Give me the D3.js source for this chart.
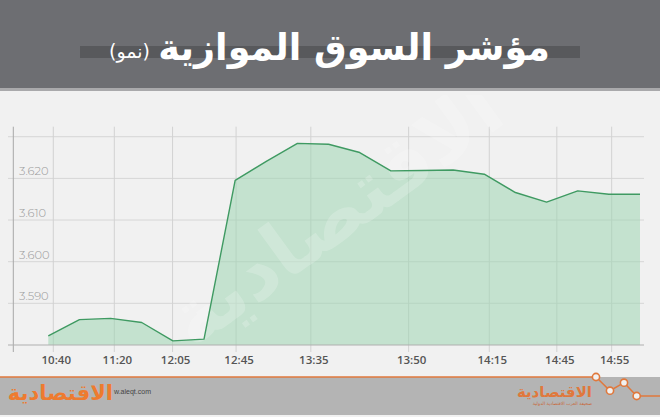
<!DOCTYPE html>
<html><head><meta charset="utf-8">
<script src="https://cdn.jsdelivr.net/npm/d3@7"></script>
<style>
html,body{margin:0;padding:0;background:#f1f1f1;}
svg{display:block;}
</style></head>
<body>
<svg id="c" width="660" height="417"></svg>
<script>
// ---- data ----
const titleMain = "مؤشر السوق الموازية";
const titleSub = "(نمو)";
const values = [3.5822, 3.5861, 3.5864, 3.5854, 3.5810, 3.5814, 3.6195, 3.6241, 3.6284, 3.6282,
                3.6262, 3.6218, 3.6219, 3.6220, 3.6210, 3.6166, 3.6143, 3.6170, 3.6162, 3.6162];
const xTickLabels = ["10:40", "11:20", "12:05", "12:45", "13:35", "13:50", "14:15", "14:45", "14:55"];
const xTickIndex = [0.16, 2.12, 3.99, 6.03, 8.43, 11.57, 14.16, 16.33, 18.09];
const yTicks = [3.59, 3.60, 3.61, 3.62, 3.63];
const yTickLabels = ["3.590", "3.600", "3.610", "3.620", ""];
const yMin = 3.58, yMax = 3.63;

const svg = d3.select("#c");
const W = 660, H = 417;

// backgrounds
svg.append("rect").attr("x",0).attr("y",0).attr("width",W).attr("height",H).attr("fill","#f1f1f1");
svg.append("rect").attr("x",0).attr("y",0).attr("width",W).attr("height",88).attr("fill","#6d6e72");
svg.append("rect").attr("x",0).attr("y",88).attr("width",W).attr("height",3).attr("fill","#a9a9ab");
// title bar
svg.append("rect").attr("x",80).attr("y",46).attr("width",500).attr("height",12).attr("fill","#58595c");

const tMain = svg.append("text").attr("x",550).attr("y",60)
  .attr("text-anchor","start").attr("direction","rtl")
  .attr("font-family","DejaVu Sans, sans-serif").attr("font-weight","bold")
  .attr("font-size",34).attr("fill","#ffffff").text(titleMain);
let w = tMain.node().getComputedTextLength();
tMain.attr("font-size", 34*392/w);
svg.append("text").attr("x",150).attr("y",58)
  .attr("text-anchor","start").attr("direction","rtl")
  .attr("font-family","DejaVu Sans, sans-serif").attr("font-weight","normal")
  .attr("font-size",19).attr("fill","#ffffff").text(titleSub);

// scales
const x = d3.scaleLinear().domain([0, values.length-1]).range([48.3, 640]);
const y = d3.scaleLinear().domain([yMin, yMax]).range([345, 136.7]);

const g = svg.append("g");
svg.append("clipPath").attr("id","plotclip").append("rect")
  .attr("x",0).attr("y",95).attr("width",W).attr("height",250);

// horizontal grid
g.selectAll(".hg").data(yTicks).join("line")
  .attr("x1",8).attr("x2",644).attr("y1",d=>y(d)).attr("y2",d=>y(d))
  .attr("stroke","#d6d6d6").attr("stroke-width",1);
// vertical grid
g.selectAll(".vg").data(xTickIndex).join("line")
  .attr("x1",d=>x(d)).attr("x2",d=>x(d)).attr("y1",126.7).attr("y2",352)
  .attr("stroke","#d2d2d2").attr("stroke-width",1);

// area + line
const area = d3.area().x((d,i)=>x(i)).y0(y(yMin)).y1(d=>y(d));
const line = d3.line().x((d,i)=>x(i)).y(d=>y(d));
g.append("path").datum(values).attr("d",area).attr("fill","#9fd6b3").attr("opacity",0.55);

// watermark
g.append("g").attr("clip-path","url(#plotclip)").append("text")
  .attr("transform","translate(338,218) rotate(-36)")
  .attr("text-anchor","middle").attr("dominant-baseline","middle")
  .attr("font-family","DejaVu Sans, sans-serif").attr("font-weight","bold")
  .attr("font-size",78).attr("fill","#ffffff").attr("opacity",0.2)
  .attr("direction","rtl").text("الاقتصادية");

g.append("path").datum(values).attr("d",line).attr("fill","none")
  .attr("stroke","#3f9a62").attr("stroke-width",1.4).attr("stroke-linejoin","round");

// axes lines
g.append("line").attr("x1",13.3).attr("x2",13.3).attr("y1",126.7).attr("y2",352)
  .attr("stroke","#a8a8a8").attr("stroke-width",1);
g.append("line").attr("x1",8).attr("x2",644).attr("y1",y(yMin)).attr("y2",y(yMin))
  .attr("stroke","#b0b0b0").attr("stroke-width",1.2);

// y labels
g.selectAll(".yl").data(yTicks).join("text")
  .attr("x",19).attr("y",d=>y(d)-3)
  .attr("font-family","Montserrat, Lato, 'Open Sans', sans-serif").attr("font-weight",300)
  .attr("font-size",11.5).attr("fill","#9a9a9a")
  .text((d,i)=>yTickLabels[i]);

// x labels
g.selectAll(".xl").data(xTickIndex).join("text")
  .attr("x",d=>x(d)+3).attr("y",364)
  .attr("text-anchor","middle")
  .attr("font-family","'Open Sans', Lato, sans-serif").attr("font-weight",600)
  .attr("font-size",11.5).attr("fill","#555555")
  .text((d,i)=>xTickLabels[i]);

// footer
svg.append("rect").attr("x",0).attr("y",377).attr("width",W).attr("height",38).attr("fill","#b4b4b4");
const orange = "#e0783c";
const zig = [[0,377],[596,377],[610,390.7],[624,382.7],[636.7,396],[660,396]];
svg.append("path").attr("d",d3.line()(zig)).attr("fill","none").attr("stroke",orange).attr("stroke-width",1.5);
svg.selectAll(".zc").data(zig.slice(1,5)).join("circle")
  .attr("cx",d=>d[0]).attr("cy",d=>d[1]).attr("r",3.6)
  .attr("fill","#f1f1f1").attr("stroke",orange).attr("stroke-width",1.6);

svg.append("text").attr("x",113).attr("y",400).attr("text-anchor","start").attr("direction","rtl")
  .attr("font-family","DejaVu Sans, sans-serif").attr("font-weight","bold")
  .attr("font-size",21).attr("fill","#ee7b2f").text("الاقتصادية");
svg.append("text").attr("x",114).attr("y",394)
  .attr("font-family","Liberation Sans, sans-serif").attr("font-size",7).attr("fill","#444").text("w.aleqt.com");

svg.append("text").attr("x",592).attr("y",397).attr("text-anchor","start").attr("direction","rtl")
  .attr("font-family","DejaVu Sans, sans-serif").attr("font-weight","bold")
  .attr("font-size",15).attr("fill","#e0783c").text("الاقتصادية");
svg.append("text").attr("x",592).attr("y",405).attr("text-anchor","start").attr("direction","rtl")
  .attr("font-family","DejaVu Sans, sans-serif")
  .attr("font-size",4.5).attr("fill","#c8683a").text("صحيفة العرب الاقتصادية الدولية");
</script>
</body></html>
